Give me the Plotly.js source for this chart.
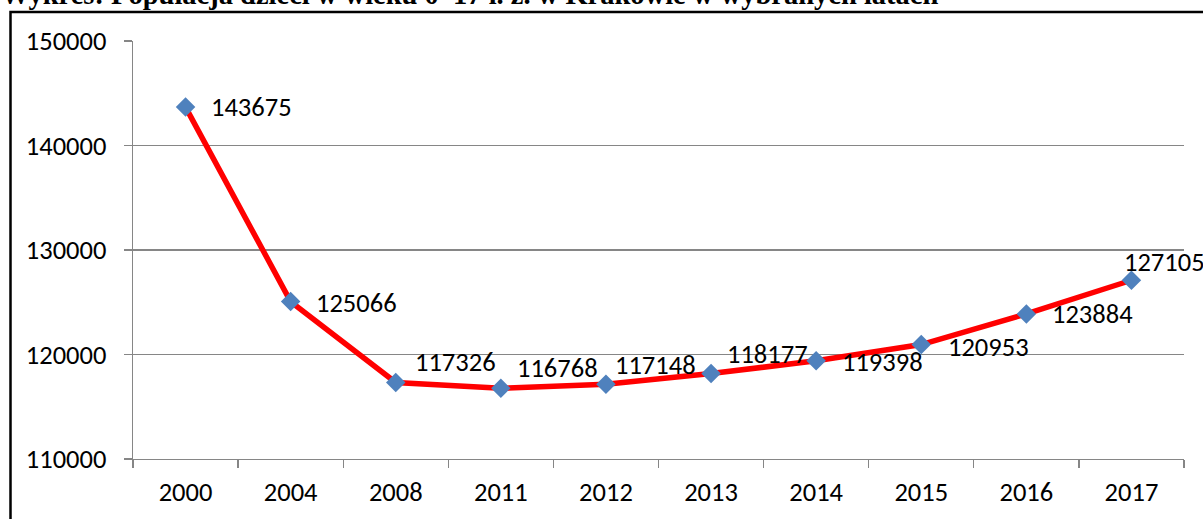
<!DOCTYPE html>
<html>
<head>
<meta charset="utf-8">
<script src="https://cdn.plot.ly/plotly-3.0.1.min.js"></script>
<style>html,body{margin:0;padding:0;background:#fff;}#chart{width:1203px;height:519px;}</style>
</head>
<body>
<div id="chart"></div>
<script>
const years = ['2000','2004','2008','2011','2012','2013','2014','2015','2016','2017'];
const population = [143675, 125066, 117326, 116768, 117148, 118177, 119398, 120953, 123884, 127105];
const yTicks = [110000, 120000, 130000, 140000, 150000];
const titleText = 'Wykres: Populacja dzieci w wieku 0–17 l. ż. w Krakowie w wybranych latach';

// label offsets (pixels) relative to each point – styling only
const labelDx = [23, 23, 17, 14, 7, 14, 24, 25, 24, -9];
const labelDy = [0, -1, 20, 20, 19, 20, -1, -2, 0, 18];

const W = 1203, H = 519;
const M = {l: 133, r: 19, t: 41, b: 60};
const pw = W - M.l - M.r, ph = H - M.t - M.b;
const px = x => (x - M.l) / pw;
const py = y => (H - M.b - y) / ph;

const font = 'Calibri, Carlito, "Open Sans", "Liberation Sans", sans-serif';
const fs = 26.5;
const grey = '#868686';

const annotations = population.map((v, i) => ({
  x: i, y: v, xref: 'x', yref: 'y',
  text: String(v), showarrow: false,
  xanchor: 'left', yanchor: 'middle',
  xshift: labelDx[i], yshift: labelDy[i],
  font: {family: font, size: fs, color: '#000'}
}));
annotations.push({
  xref: 'paper', yref: 'paper', x: px(-1), y: py(12),
  xanchor: 'left', yanchor: 'bottom', showarrow: false,
  text: '<b>' + titleText + '</b>',
  font: {family: '"Liberation Serif", "Times New Roman", serif', size: 28.5, color: '#000'}
});

const trace = {
  x: years, y: population, type: 'scatter', mode: 'lines+markers',
  line: {color: '#FF0000', width: 5.5},
  marker: {symbol: 'diamond', size: 15, color: '#4F81BD', line: {width: 0}},
  hoverinfo: 'x+y'
};

const layout = {
  width: W, height: H,
  margin: M,
  paper_bgcolor: '#fff', plot_bgcolor: '#fff',
  showlegend: false,
  font: {family: font, size: fs, color: '#000'},
  xaxis: {
    type: 'category', tickson: 'boundaries',
    range: [-0.5, years.length - 0.5], autorange: false,
    ticks: 'outside', ticklen: 8, tickwidth: 1.3, tickcolor: grey,
    showline: true, linecolor: grey, linewidth: 1.3,
    showgrid: false, zeroline: false, tickangle: 0,
    tickfont: {family: font, size: fs, color: '#000'},
    ticklabelstandoff: 9
  },
  yaxis: {
    range: [110000, 150000], autorange: false,
    tickvals: yTicks, ticktext: yTicks.map(String),
    ticks: 'outside', ticklen: 8, tickwidth: 1.3, tickcolor: grey,
    showline: true, linecolor: grey, linewidth: 1.3,
    showgrid: true, gridcolor: grey, gridwidth: 1.3,
    zeroline: false,
    tickfont: {family: font, size: fs, color: '#000'},
    ticklabelstandoff: 12
  },
  shapes: [{
    type: 'rect', xref: 'paper', yref: 'paper',
    x0: px(10.5), x1: px(1215), y0: py(12), y1: py(530),
    line: {color: '#000', width: 2.5}, layer: 'below'
  }],
  annotations: annotations
};

Plotly.newPlot('chart', [trace], layout, {displayModeBar: false, staticPlot: true});
</script>
</body>
</html>
